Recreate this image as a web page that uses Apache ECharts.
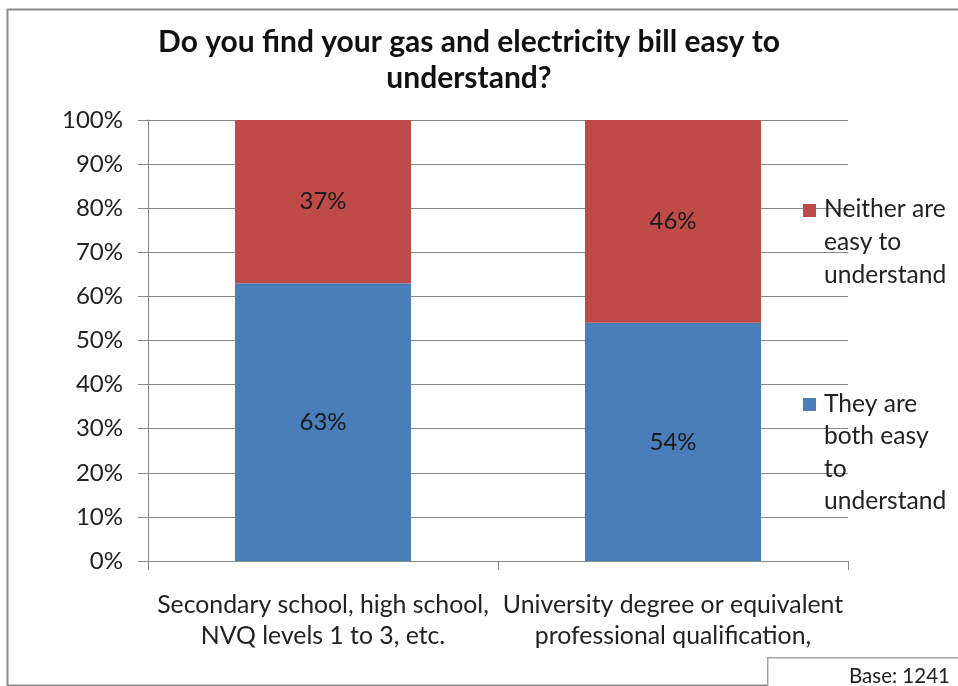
<!DOCTYPE html>
<html>
<head>
<meta charset="utf-8">
<script src="https://cdn.jsdelivr.net/npm/echarts@6/dist/echarts.min.js"></script>
<style>
html,body{margin:0;padding:0;background:#fff;}
#c{width:958px;height:686px;}
</style>
</head>
<body>
<div id="c"></div>
<script>
const titleText = 'Do you find your gas and electricity bill easy to\nunderstand?';
const categories = ['Secondary school, high school,\nNVQ levels 1 to 3, etc.', 'University degree or equivalent\nprofessional qualification,'];
const seriesNames = ['They are both easy to understand', 'Neither are easy to understand'];
const legendLines = [['They are', 'both easy', 'to', 'understand'], ['Neither are', 'easy to', 'understand']];
const bothEasy = [63, 54];
const neitherEasy = [37, 46];
const yTicks = [0, 10, 20, 30, 40, 50, 60, 70, 80, 90, 100];
const baseNote = 'Base: 1241';
const colors = ['#4a7ebb', '#be4b48'];

const FONT = 'Lato';
const chart = echarts.init(document.getElementById('c'), null, {renderer: 'canvas'});

const gridL = 148, gridR = 848, gridT = 120, gridB = 561;

const legendGraphics = [];
// Neither (red) on top, They (blue) below
const legendSpec = [
  {idx: 1, iconY: 204, textY: 193, lh: 33},
  {idx: 0, iconY: 398, textY: 388, lh: 32.3}
];
legendSpec.forEach(s => {
  legendGraphics.push({
    type: 'rect', left: 803, top: s.iconY, z: 10,
    shape: {width: 13, height: 13},
    style: {fill: colors[s.idx]}
  });
  legendGraphics.push({
    type: 'text', left: 824, top: s.textY, z: 10,
    style: {text: legendLines[s.idx].join('\n'), font: '24.6px ' + FONT, fill: '#222', lineHeight: s.lh}
  });
});

const option = {
  animation: false,
  backgroundColor: '#fff',
  title: {
    text: titleText,
    left: 464, top: 19, textAlign: 'center',
    textStyle: {fontFamily: FONT, fontWeight: 'bold', fontSize: 30, color: '#111', lineHeight: 36}
  },
  legend: {show: false},
  grid: {left: gridL, right: 958 - gridR, top: gridT, bottom: 686 - gridB, containLabel: false},
  xAxis: {
    type: 'category',
    data: categories,
    axisLine: {show: true, lineStyle: {color: '#888', width: 1}},
    axisTick: {show: true, length: 9, lineStyle: {color: '#888'}},
    axisLabel: {interval: 0, hideOverlap: false, fontFamily: FONT, fontSize: 24.8, color: '#222', lineHeight: 31, margin: 29}
  },
  yAxis: {
    type: 'value',
    min: 0, max: 100, interval: 10,
    axisLine: {show: true, lineStyle: {color: '#888', width: 1}},
    axisTick: {show: true, length: 10, lineStyle: {color: '#888'}},
    splitLine: {show: true, lineStyle: {color: '#888', width: 1}},
    axisLabel: {formatter: v => v + '%', fontFamily: FONT, fontSize: 24, color: '#222', margin: 25}
  },
  series: [
    {
      name: seriesNames[0], type: 'bar', stack: 'a', data: bothEasy,
      barWidth: 176,
      itemStyle: {color: colors[0]},
      label: {show: true, position: 'inside', formatter: p => p.value + '%', fontFamily: FONT, fontSize: 24, color: '#1a1a1a'}
    },
    {
      name: seriesNames[1], type: 'bar', stack: 'a', data: neitherEasy,
      barWidth: 176,
      itemStyle: {color: colors[1]},
      label: {show: true, position: 'inside', formatter: p => p.value + '%', fontFamily: FONT, fontSize: 24, color: '#1a1a1a'}
    }
  ],
  graphic: [
    {type: 'rect', left: 5, top: 7, z: -1, shape: {width: 1000, height: 676}, style: {fill: 'none', stroke: '#8c8c8c', lineWidth: 2}},
    {type: 'rect', left: 767, top: 657, z: 5, shape: {width: 220, height: 60}, style: {fill: '#fff', stroke: '#a6a6a6', lineWidth: 1.5}},
    {type: 'text', left: 849, top: 666, z: 6, style: {text: baseNote, font: '20.5px ' + FONT, fill: '#222'}}
  ].concat(legendGraphics)
};
chart.setOption(option);
</script>
</body>
</html>
